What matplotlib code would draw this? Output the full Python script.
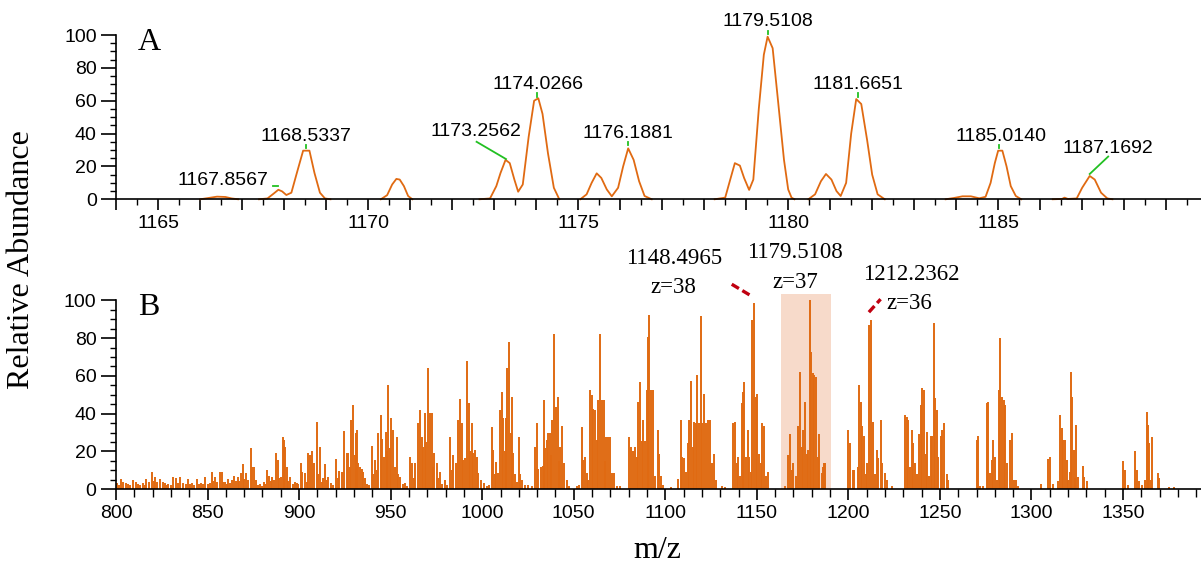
import numpy as np
import matplotlib
matplotlib.use("Agg")
import matplotlib.pyplot as plt
from matplotlib.ticker import MultipleLocator, FuncFormatter

ORANGE = "#E06A12"
GREEN = "#22C022"
RED = "#C00010"
SANS = "Liberation Sans"
SERIF = "Liberation Serif"

# ---- panel A: zoomed profile spectrum (z=37 region), NaN splits segments ----
nan = np.nan
prof_mz = [
    1166.0, 1166.2, 1166.4, 1166.6, 1166.75, 1166.9, nan,
    1167.4, 1167.6, 1167.75, 1167.86, 1167.95, 1168.05, 1168.17, 1168.3, 1168.45, 1168.6,
    1168.72, 1168.85, 1168.97, 1169.1, nan,
    1170.3, 1170.45, 1170.57, 1170.67, 1170.75, 1170.85, 1170.95, 1171.05, nan,
    1172.65, 1172.9, 1173.05, 1173.15, 1173.27, 1173.37, 1173.48, 1173.57, 1173.68, 1173.82,
    1173.95, 1174.05, 1174.15, 1174.28, 1174.42, 1174.55, nan,
    1175.05, 1175.2, 1175.32, 1175.44, 1175.55, 1175.68, 1175.8, 1175.95, 1176.07, 1176.19,
    1176.32, 1176.45, 1176.58, 1176.75, nan,
    1178.25, 1178.5, 1178.62, 1178.73, 1178.85, 1178.95, 1179.07, 1179.17, 1179.3, 1179.42,
    1179.51, 1179.63, 1179.75, 1179.9, 1180.0, 1180.08, 1180.15, nan,
    1180.48, 1180.64, 1180.78, 1180.9, 1181.03, 1181.15, 1181.25, 1181.38, 1181.5, 1181.62,
    1181.74, 1181.88, 1182.0, 1182.13, 1182.3, nan,
    1183.75, 1183.95, 1184.15, 1184.35, 1184.55, 1184.7, 1184.82, 1184.92, 1185.0, 1185.1,
    1185.2, 1185.3, 1185.42, 1185.55, nan,
    1186.3, 1186.52, 1186.58, 1186.66, 1186.87, 1187.0, 1187.18, 1187.3, 1187.45, 1187.6, 1187.72,
]
prof_int = [
    0, 0.8, 1.6, 1.4, 0.5, 0, nan,
    0, 0.5, 3.5, 5.8, 4.8, 2.6, 4, 16, 29.6, 29.6,
    16, 4, 0.5, 0, nan,
    0, 2.5, 9, 12.4, 12, 8, 2, 0, nan,
    0, 0.5, 8, 16, 24, 22, 12, 4.6, 9, 38,
    60, 61.5, 52, 28, 7, 0, nan,
    0, 3, 10, 15.8, 13, 6, 1.8, 7, 20, 31,
    24, 11, 2, 0, nan,
    0, 1, 12, 22, 20.5, 13, 5.7, 12, 55, 88,
    99, 92, 62, 24, 6, 1, 0, nan,
    0, 3, 11, 15.4, 12, 5, 2, 10, 40, 61,
    58, 36, 15, 3, 0, nan,
    0, 0.8, 1.8, 1.8, 0.6, 1.5, 10, 22, 29.6, 29.6,
    20, 8, 2, 0, nan,
    0, 0.2, 1, 0.2, 0.5, 7, 14.2, 12, 4, 0.5, 0,
]

# labelled peaks in A: text, text x, text y, alignment
a_labels = ["1167.8567", "1168.5337", "1173.2562", "1174.0266", "1176.1881",
            "1179.5108", "1181.6651", "1185.0140", "1187.1692"]
a_label_x = [1167.62, 1168.51, 1172.56, 1174.04, 1176.19, 1179.51, 1181.67, 1185.06, 1187.62]
a_label_y = [11.7, 38.0, 41.0, 69.8, 40.2, 108.0, 69.8, 38.1, 31.0]
a_label_ha = ["right", "center", "center", "center", "center", "center", "center", "center", "center"]
# green peak marks (x0, y0, x1, y1)
a_marks = [
    (1167.74, 8.1, 1167.84, 8.1),
    (1168.53, 31.5, 1168.53, 33.0),
    (1172.58, 35.0, 1173.28, 24.5),
    (1174.03, 62.5, 1174.03, 64.5),
    (1176.19, 33.0, 1176.19, 34.8),
    (1179.51, 100.5, 1179.51, 102.5),
    (1181.67, 62.5, 1181.67, 64.5),
    (1185.03, 31.5, 1185.03, 33.0),
    (1187.62, 26.0, 1187.18, 15.4),
]

# ---- panel B: full centroid spectrum, (m/z, relative abundance) ----
b_800_900 = [
    (800.7, 3.2), (801.6, 2.5), (802.7, 5.4), (804.0, 4.0), (805.5, 3.2), (806.6, 2.6), (807.6, 2.3),
    (809.1, 5.0), (810.9, 4.0), (812.0, 2.8), (813.1, 2.3), (814.9, 3.2), (815.7, 2.5), (816.4, 5.4),
    (818.2, 4.0), (819.8, 9.0), (820.6, 4.5), (821.3, 6.6), (822.6, 4.0), (824.0, 5.4), (825.5, 4.0),
    (826.8, 3.2), (827.7, 2.5), (828.6, 2.9), (829.8, 2.2), (831.3, 6.6), (832.8, 5.8), (833.9, 3.5),
    (835.0, 6.6), (836.8, 3.2), (838.0, 2.8), (839.5, 5.4), (840.5, 2.6), (841.3, 3.2), (842.6, 2.5),
    (844.1, 5.4), (845.2, 3.0), (846.3, 3.2), (847.5, 2.8), (848.6, 6.6), (850.4, 2.9), (851.5, 3.5),
    (852.3, 9.0), (853.2, 4.5), (854.1, 6.6), (855.3, 4.0), (856.8, 9.0), (857.9, 9.0), (858.7, 4.0),
    (859.5, 4.0), (860.4, 3.0), (861.3, 5.4), (862.3, 3.5), (863.2, 5.0), (864.4, 7.0), (865.5, 4.2),
    (866.5, 6.6), (867.3, 4.5), (868.1, 8.4), (869.2, 13.2), (870.1, 5.5), (871.0, 8.8), (872.3, 5.0),
    (873.6, 22.0), (874.4, 11.6), (875.4, 11.6), (876.3, 5.0), (877.7, 2.3), (878.6, 3.0), (879.6, 1.8),
    (880.8, 4.0), (881.6, 3.0), (882.3, 10.2), (883.7, 7.0), (884.4, 4.5), (885.2, 6.6), (886.2, 5.0),
    (887.2, 19.4), (888.6, 15.5), (889.2, 6.0), (889.9, 6.6), (891.0, 27.5), (891.7, 26.0), (892.3, 22.6),
    (893.2, 12.0), (894.0, 4.5), (895.0, 6.3), (896.4, 3.0), (897.8, 4.0), (898.7, 3.2), (899.6, 2.9),
]
b_900_1000 = [
    (901.0, 13.8), (901.8, 9.3), (903.2, 8.8), (904.2, 4.0), (905.0, 19.0), (906.0, 18.3), (906.9, 20.0),
    (908.3, 14.0), (909.6, 35.8), (910.5, 8.0), (911.4, 22.6), (912.3, 4.0), (913.2, 6.0), (914.1, 13.4),
    (915.0, 5.0), (916.0, 6.7), (917.4, 3.1), (918.6, 2.5), (920.0, 15.9), (921.0, 6.0), (922.0, 9.9),
    (923.3, 9.3), (924.7, 30.9), (926.0, 19.0), (926.9, 19.0), (927.6, 12.0), (928.3, 36.6), (929.6, 44.6),
    (930.3, 18.0), (930.9, 29.6), (931.5, 31.4), (932.4, 14.0), (933.3, 12.0), (934.2, 11.0), (935.1, 9.3),
    (936.0, 5.8), (937.0, 3.0), (938.0, 2.5), (939.6, 23.0), (940.5, 8.0), (941.5, 15.5), (942.4, 10.0),
    (943.3, 29.6), (944.6, 39.3), (945.4, 26.5), (946.5, 17.3), (947.3, 30.5), (948.0, 20.0), (948.7, 55.2),
    (949.4, 22.0), (950.2, 37.5), (951.4, 31.4), (952.3, 12.0), (953.3, 27.8), (954.2, 8.0), (955.1, 6.7),
    (956.5, 3.0), (957.8, 3.5), (959.0, 2.0), (960.6, 17.3), (961.8, 13.8), (962.5, 6.0), (963.3, 13.8),
    (964.8, 35.0), (966.0, 42.0), (967.0, 27.8), (967.8, 22.6), (968.8, 40.2), (969.5, 25.0), (970.2, 64.4),
    (971.5, 40.2), (972.4, 40.2), (973.0, 12.0), (973.8, 19.0), (975.2, 13.8), (976.0, 6.0), (977.0, 9.3),
    (978.3, 3.0), (979.7, 5.0), (981.0, 2.5), (982.4, 27.8), (983.3, 10.0), (984.2, 18.3), (985.5, 13.8),
    (986.6, 36.6), (987.7, 48.0), (988.8, 35.0), (989.7, 15.5), (990.6, 16.4), (991.9, 67.9), (992.8, 45.4),
    (993.6, 20.0), (994.3, 35.0), (995.1, 19.0), (996.1, 20.8), (997.0, 17.3), (997.9, 8.5), (999.2, 5.0),
]
b_1000_1100 = [
    (1001.0, 3.2), (1002.5, 2.0), (1003.9, 2.3), (1005.2, 33.1), (1006.1, 20.8), (1007.0, 8.0),
    (1007.5, 14.6), (1008.8, 8.5), (1009.7, 42.0), (1010.6, 51.7), (1011.5, 37.5), (1012.2, 20.0),
    (1012.8, 37.5), (1013.7, 64.0), (1014.8, 78.1), (1015.5, 30.0), (1016.1, 49.0), (1017.0, 19.0),
    (1017.9, 8.0), (1018.8, 4.0), (1020.1, 27.8), (1020.8, 8.0), (1021.6, 5.0), (1023.4, 2.3),
    (1025.2, 2.3), (1027.0, 1.5), (1028.8, 22.6), (1029.8, 34.9), (1030.6, 11.0), (1031.9, 12.0),
    (1033.0, 12.3), (1033.9, 47.2), (1034.5, 22.0), (1035.2, 26.0), (1036.1, 29.6), (1037.0, 29.6),
    (1037.7, 18.0), (1038.3, 36.6), (1039.4, 82.0), (1040.3, 43.5), (1041.2, 49.0), (1041.9, 15.0),
    (1042.5, 22.6), (1043.6, 33.5), (1044.8, 13.8), (1046.1, 5.0), (1047.5, 2.0), (1051.6, 1.5),
    (1053.0, 2.3), (1054.3, 32.8), (1055.2, 15.5), (1056.1, 17.3), (1057.1, 8.5), (1057.9, 5.0),
    (1058.9, 52.5), (1059.8, 49.8), (1060.7, 42.7), (1061.6, 41.9), (1062.5, 26.0), (1063.4, 47.2),
    (1064.3, 82.0), (1065.3, 47.2), (1066.5, 47.2), (1067.0, 15.0), (1067.6, 27.8), (1068.5, 27.8),
    (1069.8, 27.8), (1070.7, 8.5), (1072.0, 8.5), (1073.5, 1.5), (1075.3, 1.5), (1080.3, 27.8),
    (1081.3, 22.6), (1082.5, 20.0), (1083.5, 22.6), (1084.4, 17.3), (1085.3, 46.4), (1086.2, 56.9),
    (1087.1, 25.3), (1088.0, 36.6), (1088.9, 25.3), (1089.8, 52.5), (1090.7, 80.7), (1091.3, 92.2),
    (1092.2, 52.5), (1093.1, 52.5), (1094.4, 6.8), (1095.9, 31.4), (1096.6, 18.9), (1097.7, 6.8),
    (1098.9, 2.4),
]
b_1100_1200 = [
    (1103.1, 1.0), (1107.1, 5.3), (1108.4, 36.7), (1109.3, 17.2), (1110.4, 16.3), (1111.1, 9.3),
    (1112.2, 24.3), (1113.1, 36.7), (1114.0, 57.5), (1115.0, 22.6), (1115.8, 35.8), (1116.6, 35.0),
    (1117.5, 60.5), (1118.4, 35.0), (1119.3, 91.7), (1120.2, 35.0), (1121.1, 50.4), (1122.1, 35.0),
    (1123.5, 36.7), (1124.4, 36.7), (1125.3, 13.8), (1126.6, 18.5), (1127.5, 5.0), (1130.8, 1.5),
    (1132.6, 1.2), (1137.1, 35.0), (1138.1, 35.8), (1139.0, 13.8), (1139.9, 17.2), (1140.8, 6.8),
    (1141.7, 45.5), (1142.3, 51.7), (1143.0, 57.0), (1143.9, 17.2), (1145.0, 31.4), (1145.7, 17.2),
    (1146.8, 9.3), (1147.5, 89.6), (1148.4, 98.4), (1149.4, 49.0), (1150.2, 50.6), (1151.2, 18.9),
    (1152.3, 13.8), (1153.0, 35.0), (1153.9, 33.3), (1154.8, 6.8), (1155.9, 9.3), (1165.4, 1.5),
    (1167.2, 18.0), (1168.1, 29.5), (1169.0, 10.0), (1169.9, 13.8), (1171.2, 6.8), (1172.6, 33.3),
    (1173.6, 62.2), (1174.5, 22.6), (1175.4, 31.4), (1176.3, 46.4), (1177.2, 18.9), (1178.1, 20.6),
    (1178.9, 100.0), (1179.6, 72.8), (1180.5, 61.4), (1181.4, 60.5), (1182.1, 59.6), (1183.2, 17.2),
    (1184.1, 29.5), (1185.4, 8.5), (1186.0, 12.0), (1186.7, 13.8), (1187.2, 13.8),
]
b_1200_1300 = [
    (1200.0, 31.4), (1200.9, 24.3), (1202.3, 10.0), (1203.2, 10.0), (1205.1, 12.0), (1206.0, 55.2),
    (1206.9, 46.4), (1207.6, 33.3), (1208.5, 28.0), (1209.4, 8.0), (1210.3, 13.8), (1211.3, 86.9),
    (1212.2, 89.6), (1213.3, 35.8), (1214.5, 8.0), (1215.5, 20.8), (1216.3, 16.3), (1217.6, 36.7),
    (1218.5, 13.8), (1220.0, 8.5), (1220.9, 5.0), (1223.7, 1.5), (1230.9, 39.3), (1231.8, 38.4),
    (1232.7, 36.7), (1233.6, 12.0), (1234.7, 31.4), (1235.4, 24.3), (1236.4, 13.8), (1237.3, 8.0),
    (1238.6, 29.5), (1239.6, 44.6), (1240.4, 53.4), (1241.3, 52.5), (1242.4, 18.9), (1243.1, 30.5),
    (1244.0, 6.8), (1244.9, 28.0), (1245.8, 28.0), (1246.6, 88.2), (1247.3, 48.2), (1248.2, 42.0),
    (1249.1, 17.2), (1250.4, 28.0), (1251.3, 31.4), (1252.4, 35.0), (1253.7, 8.0), (1254.6, 5.0),
    (1270.1, 26.0), (1270.9, 28.0), (1271.9, 1.5), (1273.5, 1.5), (1275.5, 45.5), (1276.4, 46.4),
    (1277.3, 8.5), (1278.3, 15.6), (1279.1, 26.0), (1280.1, 17.2), (1281.0, 5.0), (1282.1, 52.5),
    (1283.0, 79.9), (1283.9, 49.0), (1284.8, 47.3), (1285.7, 44.6), (1286.8, 13.8), (1288.3, 26.0),
    (1289.2, 29.6), (1290.6, 4.9), (1291.5, 4.9), (1292.4, 1.8),
]
b_1300_1390 = [
    (1305.2, 2.8), (1309.2, 15.9), (1310.1, 17.3), (1311.9, 2.8), (1314.3, 4.6), (1315.6, 39.3),
    (1316.5, 32.3), (1317.4, 26.0), (1318.3, 26.0), (1319.2, 15.6), (1320.1, 4.9), (1320.9, 9.3),
    (1321.6, 62.2), (1322.3, 49.0), (1323.0, 21.0), (1323.8, 5.8), (1324.5, 34.0), (1325.2, 6.7),
    (1328.0, 12.3), (1328.8, 6.7), (1330.3, 4.6), (1350.1, 15.1), (1351.1, 10.2), (1353.0, 2.3),
    (1356.5, 20.4), (1357.5, 10.2), (1358.9, 4.6), (1360.5, 2.3), (1362.0, 4.9), (1362.9, 41.1),
    (1363.6, 34.0), (1364.3, 24.3), (1365.3, 4.9), (1365.8, 27.5), (1368.9, 8.5), (1369.8, 5.8),
    (1375.0, 1.0), (1378.0, 1.0),
]

# charge-state labels in B: (text, x, baseline y, ha)
b_labels = [
    ("1148.4965", 1104.6, 119.0, "center"),
    ("z=38", 1104.4, 103.7, "center"),
    ("1179.5108", 1171.0, 122.2, "center"),
    ("z=37", 1170.8, 106.3, "center"),
    ("1212.2362", 1234.6, 110.7, "center"),
    ("z=36", 1220.9, 95.2, "left"),
]
b_dashes = [((1136.3, 108.5), (1146.8, 102.4)), ((1211.2, 93.7), (1217.6, 100.6))]
b_box = (1163.2, 1190.5, 103.3)


def style_axes(ax):
    for side in ("top", "right"):
        ax.spines[side].set_visible(False)
    for side in ("left", "bottom"):
        ax.spines[side].set_linewidth(1.2)
    ax.set_ylim(0, 100)
    ax.yaxis.set_major_locator(MultipleLocator(20))
    ax.yaxis.set_minor_locator(MultipleLocator(5))
    ax.tick_params(axis="y", which="major", length=11, width=1.2, pad=3)
    ax.tick_params(axis="y", which="minor", length=4, width=1.0)
    for lab in ax.get_xticklabels() + ax.get_yticklabels():
        lab.set_fontfamily(SANS)
        lab.set_fontsize(14)


fig = plt.figure(figsize=(12.01, 5.65), dpi=100)
axA = fig.add_axes([0.0968, 0.6473, 0.9032, 0.2907])
axB = fig.add_axes([0.0966, 0.1340, 0.9034, 0.3345])

# panel A
axA.plot(prof_mz, prof_int, color=ORANGE, lw=1.3, clip_on=False)
axA.set_xlim(1164, 1189.83)
axA.xaxis.set_major_locator(MultipleLocator(1))
axA.xaxis.set_minor_locator(MultipleLocator(0.5))
axA.xaxis.set_major_formatter(FuncFormatter(lambda v, p: f"{v:.0f}" if round(v) % 5 == 0 else ""))
axA.tick_params(axis="x", which="major", length=8, width=1.2, pad=3)
axA.tick_params(axis="x", which="minor", length=4, width=1.0)
style_axes(axA)
for txt, x, y, ha in zip(a_labels, a_label_x, a_label_y, a_label_ha):
    axA.text(x, y, txt, ha=ha, va="center", fontsize=14, family=SANS, clip_on=False)
for x0, y0, x1, y1 in a_marks:
    axA.plot([x0, x1], [y0, y1], color=GREEN, lw=1.3, clip_on=False)
axA.text(1164.5, 104, "A", ha="left", va="top", fontsize=23, family=SERIF)

# panel B
sticks = np.array(b_800_900 + b_900_1000 + b_1000_1100 + b_1100_1200 + b_1200_1300 + b_1300_1390)
x0, x1, top = b_box
axB.fill_between([x0, x1], 0, top, color="#F7DACA", lw=0, zorder=0, clip_on=False)
axB.vlines(sticks[:, 0], 0, sticks[:, 1], color=ORANGE, lw=1.4, zorder=2)
axB.set_xlim(800, 1392.6)
axB.xaxis.set_major_locator(MultipleLocator(50))
axB.xaxis.set_minor_locator(MultipleLocator(10))
axB.tick_params(axis="x", which="major", length=8, width=1.2, pad=3)
axB.tick_params(axis="x", which="minor", length=6, width=1.0)
style_axes(axB)
for txt, x, y, ha in b_labels:
    axB.text(x, y, txt, ha=ha, va="baseline", fontsize=16.5, family=SERIF, clip_on=False)
for (xa, ya), (xb, yb) in b_dashes:
    axB.plot([xa, xb], [ya, yb], color=RED, lw=2.4, ls=(0, (2.5, 1.2)), clip_on=False)
axB.text(812, 104, "B", ha="left", va="top", fontsize=23, family=SERIF)

fig.text(0.018, 0.54, "Relative Abundance", rotation=90, ha="center", va="center",
         fontsize=23, family=SERIF)
fig.text(0.547, 0.0, "m/z", ha="center", va="bottom", fontsize=23, family=SERIF)

fig.savefig("out.png", dpi=100)
